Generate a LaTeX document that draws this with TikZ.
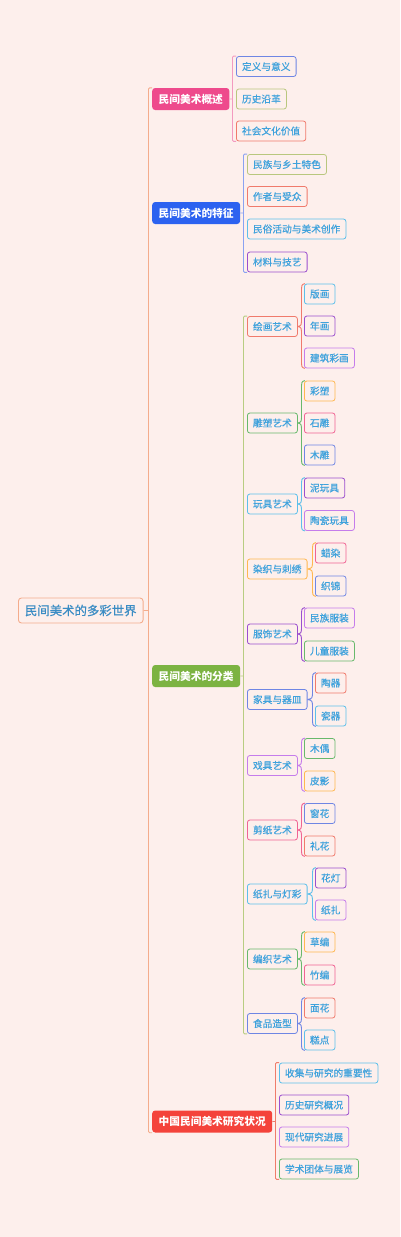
\documentclass[tikz,border=0pt]{standalone}
\usepackage{fontspec}
\newfontfamily\cjk{Noto Sans CJK SC}
\newfontfamily\cjkl{Noto Sans CJK SC}[FakeBold=0.6]
\usetikzlibrary{calc}
\definecolor{bg}{HTML}{FDEFEC}
\definecolor{txt}{HTML}{3FA2DC}
\definecolor{roottxt}{HTML}{3A8CC4}
\definecolor{rootline}{HTML}{F4AC8C}
\definecolor{cpink}{HTML}{EE4A8C}
\definecolor{cblue}{HTML}{2C62F0}
\definecolor{cgreen}{HTML}{7CB342}
\definecolor{cred}{HTML}{F4433B}
\definecolor{bpink}{HTML}{F39AC0}
\definecolor{bblue}{HTML}{8AA2F2}
\definecolor{bolive}{HTML}{B8CD82}
\definecolor{bred}{HTML}{F07C6A}
\definecolor{kblue}{HTML}{6F86E4}
\definecolor{kolive}{HTML}{B9C77E}
\definecolor{ksalmon}{HTML}{F07A6C}
\definecolor{klblue}{HTML}{5DBFEA}
\definecolor{kpurple}{HTML}{9B4FCE}
\definecolor{kviolet}{HTML}{C57CEB}
\definecolor{kgreen}{HTML}{68B96C}
\definecolor{korange}{HTML}{FFB750}
\definecolor{kpink}{HTML}{F06494}
\tikzset{
  leaf/.style={draw=#1, rounded corners=2.5pt, fill=bg, text=txt,
    font=\cjkl\fontsize{9.7}{10}\selectfont, inner xsep=5.6pt, inner ysep=0pt,
    minimum height=20pt, line width=0.8pt, anchor=west},
  topic/.style={fill=#1, rounded corners=3pt, text=white,
    font=\cjk\bfseries\fontsize{10.7}{11}\selectfont, inner xsep=6.5pt, inner ysep=0pt,
    minimum height=22pt, anchor=west},
  rootbox/.style={draw=rootline, rounded corners=3pt, fill=bg, text=roottxt,
    font=\cjkl\fontsize{12.4}{13}\selectfont, inner xsep=6.5pt, inner ysep=0pt,
    minimum height=25pt, line width=0.9pt, anchor=west},
  brl/.style={line width=0.9pt, rounded corners=1.2pt},
  bcl/.style={line width=0.9pt}
}
\newcommand\sqb[4]{%
  \draw[#4,brl] let \p1=(#1.east), \p2=(#2.north west), \p3=(#3.south west) in
    (\x2,\y2) -- (\x2-3.5pt,\y2) -- (\x2-3.5pt,\y3) -- (\x3,\y3)
    (\x1,\y1) -- (\x2-3.5pt,\y1);}
\newcommand\brc[4]{%
  \draw[#4,bcl] let \p1=(#1.east), \p2=(#2.north west), \p3=(#3.south west) in
    (\x2+1pt,\y2) .. controls (\x2-2.5pt,\y2-1pt) .. (\x2-2.5pt,\y2-9pt) -- (\x2-2.5pt,\y1+9pt)
      .. controls (\x2-2.5pt,\y1+1pt) .. (\x1,\y1)
    (\x3+1pt,\y3) .. controls (\x2-2.5pt,\y3+1pt) .. (\x2-2.5pt,\y3+9pt) -- (\x2-2.5pt,\y1-9pt)
      .. controls (\x2-2.5pt,\y1-1pt) .. (\x1,\y1);}
\begin{document}
\begin{tikzpicture}[x=1pt,y=1pt]
\fill[bg] (0,0) rectangle (400,-1237);
\useasboundingbox (0,0) rectangle (400,-1237);

\node[rootbox] (root) at (18,-610.5) {民间美术的多彩世界};

\node[topic=cpink] (a) at (152,-99) {民间美术概述};
\node[leaf=kblue] (a1) at (236,-66.5) {定义与意义};
\node[leaf=kolive] (a2) at (236,-99) {历史沿革};
\node[leaf=ksalmon] (a3) at (236,-131) {社会文化价值};

\node[topic=cblue] (b) at (152,-213) {民间美术的特征};
\node[leaf=kolive] (b1) at (247,-164.5) {民族与乡土特色};
\node[leaf=ksalmon] (b2) at (247,-196.5) {作者与受众};
\node[leaf=klblue] (b3) at (247,-229) {民俗活动与美术创作};
\node[leaf=kpurple] (b4) at (247,-262) {材料与技艺};

\node[topic=cgreen] (c) at (152,-676) {民间美术的分类};
\node[leaf=ksalmon] (g1) at (247,-326.5) {绘画艺术};
\node[leaf=klblue] (g1a) at (304,-294) {版画};
\node[leaf=kpurple] (g1b) at (304,-326) {年画};
\node[leaf=kviolet] (g1c) at (304,-358) {建筑彩画};
\node[leaf=kgreen] (g2) at (247,-423) {雕塑艺术};
\node[leaf=korange] (g2a) at (304,-391) {彩塑};
\node[leaf=kpink] (g2b) at (304,-423) {石雕};
\node[leaf=kblue] (g2c) at (304,-455) {木雕};
\node[leaf=klblue] (g3) at (247,-504) {玩具艺术};
\node[leaf=kpurple] (g3a) at (304,-488) {泥玩具};
\node[leaf=kviolet] (g3b) at (304,-520.5) {陶瓷玩具};
\node[leaf=korange] (g4) at (247,-569) {染织与刺绣};
\node[leaf=kpink] (g4a) at (315,-553) {蜡染};
\node[leaf=kblue] (g4b) at (315,-586) {织锦};
\node[leaf=kpurple] (g5) at (247,-634) {服饰艺术};
\node[leaf=kviolet] (g5a) at (304,-618) {民族服装};
\node[leaf=kgreen] (g5b) at (304,-651) {儿童服装};
\node[leaf=kblue] (g6) at (247,-699.5) {家具与器皿};
\node[leaf=ksalmon] (g6a) at (315,-683) {陶器};
\node[leaf=klblue] (g6b) at (315,-716) {瓷器};
\node[leaf=kviolet] (g7) at (247,-765.5) {戏具艺术};
\node[leaf=kgreen] (g7a) at (304,-748.5) {木偶};
\node[leaf=korange] (g7b) at (304,-781) {皮影};
\node[leaf=kpink] (g8) at (247,-830) {剪纸艺术};
\node[leaf=kblue] (g8a) at (304,-813.5) {窗花};
\node[leaf=ksalmon] (g8b) at (304,-846) {礼花};
\node[leaf=klblue] (g9) at (247,-894) {纸扎与灯彩};
\node[leaf=kpurple] (g9a) at (315,-878) {花灯};
\node[leaf=kviolet] (g9b) at (315,-910) {纸扎};
\node[leaf=kgreen] (g10) at (247,-959) {编织艺术};
\node[leaf=korange] (g10a) at (304,-942) {草编};
\node[leaf=kpink] (g10b) at (304,-975) {竹编};
\node[leaf=kblue] (g11) at (247,-1023.5) {食品造型};
\node[leaf=ksalmon] (g11a) at (304,-1008) {面花};
\node[leaf=klblue] (g11b) at (304,-1040) {糕点};

\node[topic=cred] (d) at (152,-1121.5) {中国民间美术研究状况};
\node[leaf=klblue] (d1) at (279,-1073) {收集与研究的重要性};
\node[leaf=kpurple] (d2) at (279,-1105) {历史研究概况};
\node[leaf=kviolet] (d3) at (279,-1137) {现代研究进展};
\node[leaf=kgreen] (d4) at (279,-1169) {学术团体与展览};

\sqb{root}{a}{d}{rootline}
\sqb{a}{a1}{a3}{bpink}
\sqb{b}{b1}{b4}{bblue}
\sqb{c}{g1}{g11}{bolive}
\sqb{d}{d1}{d4}{bred}

\brc{g1}{g1a}{g1c}{ksalmon}
\brc{g2}{g2a}{g2c}{kgreen}
\brc{g3}{g3a}{g3b}{klblue}
\brc{g4}{g4a}{g4b}{korange}
\brc{g5}{g5a}{g5b}{kpurple}
\brc{g6}{g6a}{g6b}{kblue}
\brc{g7}{g7a}{g7b}{kviolet}
\brc{g8}{g8a}{g8b}{kpink}
\brc{g9}{g9a}{g9b}{klblue}
\brc{g10}{g10a}{g10b}{kgreen}
\brc{g11}{g11a}{g11b}{kblue}
\end{tikzpicture}
\end{document}
